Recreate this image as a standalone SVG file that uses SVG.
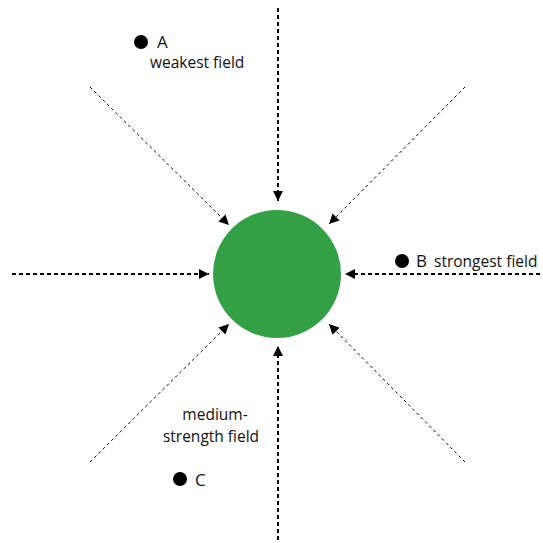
<svg xmlns="http://www.w3.org/2000/svg" width="543" height="543" viewBox="0 0 543 543">
<style>
.ax{stroke:#000;stroke-width:2;stroke-dasharray:4 3;fill:none}
.dg{stroke:#000;stroke-width:1;stroke-dasharray:3 3;fill:none}
text{font-family:"Open Sans","Noto Sans",sans-serif;fill:#111}
.lg{font-size:17px}
.sm{font-size:15.5px}
</style>
<defs>
<marker id="ah" viewBox="0 0 10 10" refX="10" refY="5" markerWidth="5" markerHeight="5" orient="auto" markerUnits="strokeWidth">
<path d="M0,0 L10,5 L0,10 z" fill="#000"/>
</marker>
<marker id="ahd" viewBox="0 0 10 10" refX="10" refY="5" markerWidth="10" markerHeight="10" orient="auto" markerUnits="strokeWidth">
<path d="M0,0 L10,5 L0,10 z" fill="#000"/>
</marker>
</defs>
<g id="connectors">
<line class="ax" x1="278" y1="8" x2="278" y2="201" marker-end="url(#ah)"/>
<line class="ax" x1="278" y1="540" x2="278" y2="346" marker-end="url(#ah)"/>
<line class="ax" x1="12" y1="274" x2="209" y2="274" marker-end="url(#ah)"/>
<line class="ax" x1="540" y1="274" x2="345" y2="274" marker-end="url(#ah)"/>
<line class="dg" x1="90" y1="87" x2="229" y2="225" marker-end="url(#ahd)"/>
<line class="dg" x1="465" y1="87" x2="329" y2="224" marker-end="url(#ahd)"/>
<line class="dg" x1="90" y1="462" x2="229" y2="324" marker-end="url(#ahd)"/>
<line class="dg" x1="465" y1="462" x2="329" y2="324" marker-end="url(#ahd)"/>
</g>
<g id="core">
<circle cx="277" cy="274" r="64" fill="#33a046"/>
</g>
<g id="pointA">
<circle cx="141" cy="42" r="7" fill="#000"/>
<text class="lg" x="157" y="48">A</text>
<text class="sm" x="150" y="68">weakest field</text>
</g>
<g id="pointB">
<circle cx="402" cy="261" r="7" fill="#000"/>
<text class="lg" x="416" y="267">B</text>
<text class="sm" x="434" y="267">strongest field</text>
</g>
<g id="pointC">
<circle cx="180" cy="479" r="7" fill="#000"/>
<text class="lg" x="195" y="486">C</text>
<text class="sm" x="215" y="420" text-anchor="middle">medium-</text>
<text class="sm" x="211" y="442" text-anchor="middle">strength field</text>
</g>
</svg>
